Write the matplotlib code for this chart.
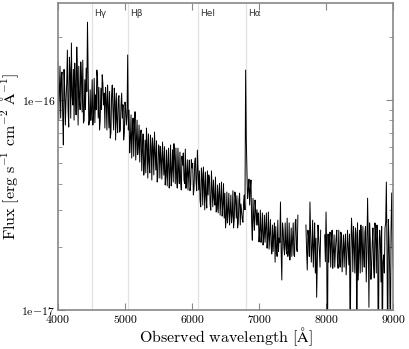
import matplotlib
matplotlib.use("Agg")
import matplotlib.pyplot as plt
import matplotlib.ticker as mticker
import numpy as np

# spectrum, flux in units of 1e-17 erg/s/cm2/A
# three chunks (gaps = masked telluric bands); *_a on the 20 A grid,
# *_b the samples half way in between
seg1_range = (4000, 7580)
seg1_a = [
    15.2, 10.6, 8.21, 13.6, 6.11, 11.4, 10.0, 17.3, 7.44, 13.9,
    18.7, 9.47, 8.03, 11.8, 17.9, 7.60, 10.2, 15.2, 8.77, 7.77, 12.5, 14.2, 23.5, 7.60, 11.2,
    8.96, 7.60, 12.7, 10.6, 13.9, 8.21, 7.20, 11.4, 13.2, 9.47, 7.36,
    10.0, 11.8, 7.36, 6.59, 10.6, 8.96, 11.4, 6.45, 8.03, 10.2, 7.04, 9.47, 8.21,
    6.45, 9.78, 7.60,
    16.4,
    8.96, 6.45, 5.30, 8.21, 7.36, 5.18, 8.03, 6.11, 5.07,
    7.20, 5.78, 4.39, 6.45, 7.36, 4.25, 5.07, 6.81, 4.16, 5.91, 7.04, 4.64, 4.07, 6.11, 4.25,
    5.18, 6.31, 4.39, 3.94, 5.78, 4.90, 3.81, 6.11, 4.64, 4.07, 5.47, 5.91, 3.81, 4.54, 5.65,
    3.73, 4.90, 4.16, 5.84,
    4.39, 3.73, 5.18, 3.94, 4.75, 3.53, 5.07, 4.07,
    5.78,
    3.73, 3.34, 4.75, 3.16, 3.94, 4.54, 3.06, 3.53, 4.25, 2.99, 3.73, 4.16, 3.16, 2.93, 3.94,
    3.53, 2.83, 4.07, 3.16, 2.74, 2.46, 3.65,
    2.99, 2.54, 3.53, 2.83, 2.46, 3.65, 2.74, 2.46, 3.34, 2.54,
    2.93, 2.62, 3.53,
    13.9,
    4.54, 3.73, 3.16, 4.16, 2.15, 2.74, 3.34, 2.54,
    2.54, 2.11, 2.99, 2.35, 2.04, 2.83, 2.46, 1.97, 2.93, 2.28,
    2.04, 2.54, 2.28, 1.69, 1.93, 2.68, 2.20, 3.27, 1.39, 2.40, 1.83, 2.04, 2.74, 1.93, 1.73,
    2.46, 2.15, 1.83, 2.62, 1.97, 2.83,
]
seg1_b = [
    8.0, 14.5, 13.0, 8.5, 14.0, 7.6, 12.0, 9.0, 16.0,
    8.2, 10.5, 14.0, 15.0, 8.5, 13.5, 14.5, 9.0, 12.8, 15.5, 8.0, 9.0, 11.0, 13.8, 8.0,
    8.0, 12.5, 8.5, 7.8, 9.0, 12.8, 11.5, 8.0, 9.0, 12.0, 10.8,
    11.5, 7.2, 9.5, 11.0, 7.0, 11.8, 7.2, 9.8, 10.8, 7.0, 10.5, 7.2, 10.8,
    9.5, 7.0, 9.0,
    8.5, 7.2,
    5.6, 8.5, 7.0, 5.4, 8.8, 6.5, 5.5, 7.6,
    6.8, 4.6, 6.9, 5.0, 4.5, 6.2, 6.9, 4.5, 6.0, 6.6, 4.4, 5.6, 6.4, 4.3, 6.0,
    6.0, 4.2, 5.2, 6.0, 4.4, 3.9, 5.9, 4.5, 3.9, 5.8, 6.2, 4.0, 4.3, 5.9, 4.0, 4.1, 5.4, 5.6,
    4.0,
    3.8, 5.2, 4.6, 3.7, 5.2, 5.0, 3.8, 5.3,
    3.7, 4.6,
    4.6, 3.1, 4.4, 4.8, 3.0, 3.5, 4.6, 4.4, 3.2, 4.6, 3.1, 3.4, 4.3, 3.0,
    2.9, 4.0, 3.4, 2.8, 4.0, 3.6, 2.7,
    2.6, 3.6, 2.9, 2.6, 3.7, 2.7, 3.4, 3.5, 2.6, 3.6,
    3.2, 2.7, 3.3,
    3.0, 6.5,
    3.4, 4.2, 3.8, 2.6, 3.4, 2.4, 3.0,
    3.0, 2.9, 2.4, 2.1, 2.9, 2.2, 2.1, 2.9, 2.2, 1.95,
    2.7, 1.85, 1.9, 2.6, 2.5, 1.8, 1.9, 2.1, 1.9, 2.6, 2.0, 2.6, 1.85, 1.8, 2.6, 2.0, 1.8,
    2.6, 1.8, 2.7, 1.9,
]
seg2_range = (7700, 7920)
seg2_a = [2.54, 1.55, 2.20, 3.27, 1.69, 2.68, 2.04, 1.50, 1.15, 2.54, 1.93, 2.40]
seg2_b = [1.9, 2.4, 1.8, 2.3, 2.0, 1.6, 2.6, 2.2, 1.7, 2.2, 1.6]
seg3_range = (7980, 9000)
seg3_a = [
    2.28, 2.93, 0.5, 1.69, 2.35, 2.11, 1.58, 2.28, 1.93, 2.40,
    1.58, 1.83, 2.35, 1.52, 2.28, 2.04, 1.47, 2.40, 1.64, 0.6,
    2.74, 1.52, 2.04, 2.46, 0.5, 1.39, 2.40, 2.54, 1.52, 1.83,
    2.35, 1.36, 3.41, 1.03, 2.15, 1.64, 2.46, 1.42, 2.35, 2.54,
    0.5, 2.40, 1.36, 0.6, 1.83, 2.46, 4.07, 0.5, 2.15, 0.6,
    3.61, 1.58,
]
seg3_b = [
    1.7, 1.9, 2.3, 2.2, 1.6, 2.4, 1.9, 1.6, 2.2, 1.7,
    2.4, 1.6, 2.3, 1.9, 1.6, 2.3, 1.8, 2.0, 2.3, 1.8,
    2.3, 2.5, 1.5, 2.3, 2.6, 1.9, 1.5, 2.1, 2.5, 1.6,
    2.5, 1.9, 2.2, 2.6, 1.4, 2.1, 1.6, 2.6, 1.5, 2.2,
    1.8, 2.2, 2.5, 1.7, 1.5, 2.6, 1.9, 2.7, 1.5, 2.4,
    2.0,
]

line_names = ["Hγ", "Hβ", "HeI", "Hα"]
line_waves = [4500, 5040, 6093, 6806]

plt.rcParams["mathtext.fontset"] = "cm"
plt.rcParams["font.family"] = ["cmr10", "DejaVu Sans"]
plt.rcParams["axes.unicode_minus"] = False

fig = plt.figure(figsize=(4.09, 3.49), dpi=100)
ax = fig.add_axes([0.1418, 0.1117, 0.8192, 0.8797])

segments = [(seg1_range, seg1_a, seg1_b), (seg2_range, seg2_a, seg2_b),
            (seg3_range, seg3_a, seg3_b)]
for (lo, hi), fa, fb in segments:
    flux = np.empty(len(fa) + len(fb))
    flux[0::2] = fa
    flux[1::2] = fb
    wave = np.linspace(lo, hi, len(flux))
    ax.plot(wave, flux * 1e-17, color="black", lw=0.7)

for name, w in zip(line_names, line_waves):
    ax.axvline(w, color="#e2e2e2", lw=0.9, zorder=0)
    ax.text(w + 35, 0.965, name, transform=ax.get_xaxis_transform(),
            fontsize=6.5, family="DejaVu Sans", color="#333333", va="center")

ax.set_yscale("log")
ax.set_xlim(4000, 9000)
ax.set_ylim(1e-17, 2.9e-16)
ax.set_xticks([4000, 5000, 6000, 7000, 8000, 9000])
ax.yaxis.set_major_locator(mticker.FixedLocator([1e-17, 1e-16]))
ax.yaxis.set_major_formatter(mticker.FuncFormatter(
    lambda v, p: r"$\mathrm{1e{-}%d}$" % round(-np.log10(v))))
ax.yaxis.set_minor_formatter(mticker.NullFormatter())

for s in ax.spines.values():
    s.set_color("#888888")
    s.set_linewidth(1.2)
ax.tick_params(which="both", direction="in", top=True, right=True, color="#888888",
               labelsize=8.5)
ax.tick_params(which="major", length=5)
ax.tick_params(which="minor", length=3)
ax.tick_params(axis="x", pad=4)
ax.tick_params(axis="y", pad=2)

ax.set_xlabel(r"$\mathrm{Observed\ wavelength\ [\AA]}$", fontsize=11.5, labelpad=0)
ax.set_ylabel(r"$\mathrm{Flux\ [erg\ s^{-1}\ cm^{-2}\ \AA^{-1}]}$", fontsize=11.5)
ax.yaxis.set_label_coords(-0.11, 0.5)

fig.savefig("out.png", dpi=100)
